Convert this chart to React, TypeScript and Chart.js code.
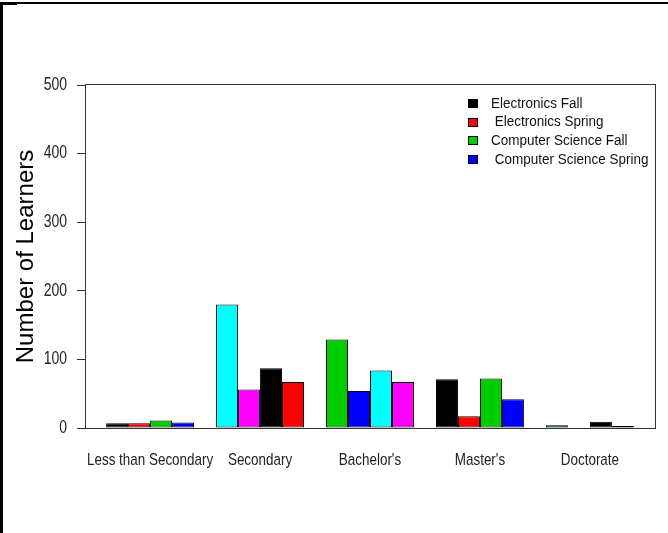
import React, { useEffect, useRef } from "react";
import { Chart, registerables, CategoryScale } from "chart.js";

const categories = ["Less than Secondary", "Secondary", "Bachelor's", "Master's", "Doctorate"];
const seriesNames = ["Electronics Fall", " Electronics Spring", "Computer Science Fall", " Computer Science Spring"];
const electronicsFall = [7, 180, 129, 71, 4];
const electronicsSpring = [7, 56, 54, 17, 0];
const csFall = [11, 87, 84, 72, 9];
const csSpring = [8, 67, 67, 42, 3];
const yTickValues = [0, 100, 200, 300, 400, 500];
const palette = ["#000000", "#FF0000", "#00CD00", "#0000FF", "#00FFFF", "#FF00FF"];

const seriesValues = [electronicsFall, electronicsSpring, csFall, csSpring];

// extra padding (in category units) beyond the usual half category on each side
const X_EXTRA_PAD = 0.092;

class PaddedCategoryScale extends CategoryScale {
  static id = "paddedCategory";
  static defaults = CategoryScale.defaults;
  configure() {
    super.configure();
    const n = this.getLabels().length;
    (this as any)._startValue = -0.5 - X_EXTRA_PAD;
    (this as any)._valueRange = n + 2 * X_EXTRA_PAD;
  }
}

Chart.register(...registerables, PaddedCategoryScale);

const SANS = "'Liberation Sans', Arial, sans-serif";

// draws text horizontally condensed (like Arial Narrow)
function drawNarrow(
  ctx: CanvasRenderingContext2D,
  text: string,
  x: number,
  y: number,
  size: number,
  sx: number,
  align: CanvasTextAlign,
  baseline: CanvasTextBaseline,
  color: string
) {
  ctx.save();
  ctx.translate(x, y);
  ctx.scale(sx, 1);
  ctx.font = `${size}px ${SANS}`;
  ctx.textAlign = align;
  ctx.textBaseline = baseline;
  ctx.fillStyle = color;
  ctx.fillText(text, 0, 0);
  ctx.restore();
}

const framePlugin = {
  id: "frame",
  afterDatasetsDraw(chart: any) {
    const { ctx, chartArea } = chart;
    ctx.save();
    ctx.strokeStyle = "#333";
    ctx.lineWidth = 1;
    ctx.strokeRect(
      Math.round(chartArea.left) + 0.5,
      Math.round(chartArea.top) - 0.5,
      Math.round(chartArea.right - chartArea.left),
      Math.round(chartArea.bottom - chartArea.top) + 1
    );
    ctx.restore();
  },
};

const labelsPlugin = {
  id: "narrowLabels",
  afterDraw(chart: any) {
    const { ctx } = chart;
    const xs = chart.scales.x;
    const ys = chart.scales.y;
    const labels = xs.getLabels();
    xs.ticks.forEach((t: any, i: number) => {
      drawNarrow(ctx, String(labels[t.value]), xs.getPixelForTick(i), 465, 17, 0.79, "center", "alphabetic", "#222");
    });
    ys.ticks.forEach((t: any) => {
      drawNarrow(ctx, String(t.value), 67, ys.getPixelForValue(t.value), 17.5, 0.8, "right", "middle", "#222");
    });
  },
};

const legendPlugin = {
  id: "rLegend",
  afterDraw(chart: any) {
    const { ctx } = chart;
    const x0 = 468;
    const y0 = 103.5;
    const step = 18.7;
    seriesNames.forEach((name, i) => {
      const cy = y0 + i * step;
      const top = Math.round(cy - 4.5);
      ctx.save();
      ctx.fillStyle = palette[i];
      ctx.fillRect(x0, top, 10, 9);
      ctx.strokeStyle = "#000";
      ctx.lineWidth = 1;
      ctx.strokeRect(x0 + 0.5, top + 0.5, 9, 8);
      ctx.restore();
      drawNarrow(ctx, name, 491, cy, 15.5, 0.87, "left", "middle", "#111");
    });
  },
};

export default function App() {
  const canvasRef = useRef<HTMLCanvasElement | null>(null);

  useEffect(() => {
    if (!canvasRef.current) return;
    const datasets = seriesValues.map((vals, s) => ({
      label: seriesNames[s],
      data: vals,
      backgroundColor: vals.map((_, c) => palette[(c * seriesValues.length + s) % palette.length]),
      borderColor: "#000",
      borderWidth: 1,
      borderSkipped: false as const,
      categoryPercentage: 0.8,
      barPercentage: 1.0,
    }));

    const chart = new Chart(canvasRef.current, {
      type: "bar",
      data: { labels: categories, datasets },
      options: {
        responsive: false,
        animation: false,
        devicePixelRatio: 1,
        layout: { padding: { left: 0, top: 85, right: 13, bottom: 0 } },
        plugins: {
          legend: { display: false },
          tooltip: { enabled: false },
          title: { display: false },
        },
        scales: {
          x: {
            type: "paddedCategory" as any,
            grid: { display: false, drawTicks: false },
            border: { display: false },
            ticks: { display: false, autoSkip: false, maxRotation: 0 },
            afterFit: (scale: any) => {
              scale.height = 105;
            },
          },
          y: {
            min: 0,
            max: 500,
            afterBuildTicks: (scale: any) => {
              scale.ticks = yTickValues.map((v) => ({ value: v }));
            },
            grid: {
              display: true,
              drawOnChartArea: false,
              drawTicks: true,
              tickLength: 8,
              color: "#333",
              lineWidth: 1,
            },
            border: { display: false },
            ticks: { display: false },
            title: {
              display: true,
              text: "Number of Learners",
              color: "#000",
              font: { family: SANS, size: 24 },
              padding: { top: 12, bottom: 0 },
            },
            afterFit: (scale: any) => {
              scale.width = 85;
            },
          },
        },
      },
      plugins: [framePlugin, labelsPlugin, legendPlugin],
    });
    return () => chart.destroy();
  }, []);

  return (
    <div style={{ position: "fixed", left: 0, top: 0, width: 668, height: 533, background: "#fff" }}>
      <canvas ref={canvasRef} width={668} height={533} style={{ display: "block" }} />
      <div style={{ position: "absolute", left: 0, top: 2, width: 668, height: 2, background: "#000" }} />
      <div style={{ position: "absolute", left: 0, top: 2, width: 3, height: 531, background: "#000" }} />
      <div style={{ position: "absolute", left: 0, top: 2, width: 17, height: 3, background: "#000" }} />
    </div>
  );
}
